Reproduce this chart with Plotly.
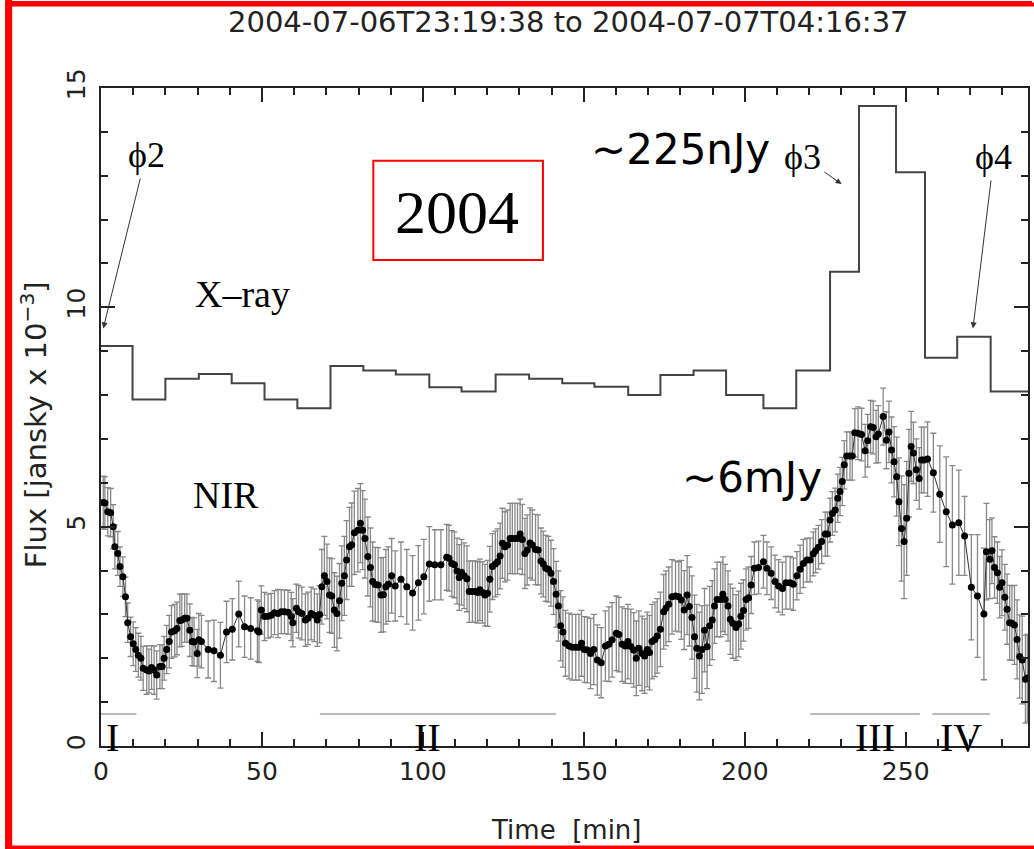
import plotly.graph_objects as go

# ---------------- data ----------------
title_text = "2004-07-06T23:19:38 to 2004-07-07T04:16:37"

xray_edges = [0, 9.8, 20, 30.4, 40.6, 50.8, 61, 71.3, 81.5, 91.6, 102, 112, 122.6, 133,
              143.3, 153.3, 163.8, 173.8, 184.1, 194.2, 205.8, 216, 226.5, 235.5, 247,
              256, 266, 276.4, 288]
xray_levels = [9.12, 7.90, 8.37, 8.48, 8.27, 7.90, 7.70, 8.66, 8.56, 8.47, 8.18, 8.08,
               8.47, 8.37, 8.27, 8.19, 8.00, 8.46, 8.56, 8.00, 7.70, 8.56, 10.81, 14.59,
               13.08, 8.85, 9.33, 8.08]

nir_time = [
    0.7, 1.2, 2.1, 3.0, 3.8, 4.3, 5.2, 5.9, 6.8, 7.6,
    8.3, 9.2, 10.0, 10.8, 11.6, 12.4, 13.1, 14.2, 14.9, 15.7,
    16.5, 17.3, 18.3, 19.0, 19.6, 20.4, 21.2, 21.9, 22.9, 23.6,
    24.5, 25.1, 26.0, 26.7, 27.6, 28.3, 28.9, 29.9, 30.4, 31.2,
    33.3, 35.1, 37.1, 39.0, 40.8, 42.8, 44.6, 46.5, 48.6, 49.1,
    49.8, 50.8, 51.9, 52.9, 53.9, 55.0, 56.0, 57.0, 58.1, 59.1,
    59.6, 60.7, 61.4, 62.4, 63.5, 64.3, 65.3, 66.3, 67.2, 67.9,
    68.6, 69.4, 70.2, 71.0, 71.7, 72.5, 73.3, 74.1, 74.8, 75.6,
    76.3, 77.2, 77.9, 78.7, 79.8, 80.6, 81.3, 82.0, 82.9, 83.7,
    84.4, 85.2, 86.1, 87.0, 87.7, 88.5, 89.3, 90.3,
    91.4, 93.2, 95.0, 96.8, 98.6, 100.3, 102.0, 103.7, 105.6, 107.4,
    108.1, 109.0, 109.8, 110.6, 111.3, 112.0, 112.8, 113.7, 114.4, 115.4,
    116.3, 117.0, 117.7, 118.5, 119.3, 120.1, 120.8, 121.6, 122.5, 123.2,
    124.0, 124.7, 125.5, 126.3, 127.1, 127.8, 128.6, 129.4, 130.2, 130.9,
    131.7, 132.4, 133.3, 134.0, 135.0, 135.8, 136.7, 137.4, 138.2, 139.0,
    139.8, 140.6, 141.4, 142.1, 142.8, 143.5, 144.3, 145.4, 146.4, 147.5,
    148.5, 149.3, 150.2, 151.1, 152.1, 153.1, 154.2, 155.4, 156.7, 157.8,
    158.8, 160.1, 160.9, 161.9, 162.9, 163.7, 164.6, 165.5, 166.3, 167.1,
    168.1, 168.9, 169.7, 170.4, 171.2, 172.1, 172.8, 173.8, 174.8, 175.5,
    176.4, 177.4, 178.5, 179.5,
    180.3, 181.2, 182.1, 182.8, 183.6, 184.4, 185.1, 185.9, 186.7, 187.5,
    188.3, 189.1, 189.9, 190.6, 191.4, 192.5, 193.2, 193.9, 194.8, 195.5,
    196.3, 197.3, 198.1, 198.8, 199.6, 200.4, 201.2, 202.0, 203.0, 204.3,
    205.8, 206.9, 208.2, 209.4, 210.5, 211.7, 212.8, 214.1, 215.1, 216.2,
    217.2, 218.2, 219.3, 220.3, 221.3, 222.0, 222.9, 223.9, 225.0, 225.7,
    226.5, 227.2, 228.1, 228.9, 229.6, 230.3, 230.9, 231.7, 232.7, 233.4,
    234.2, 235.2, 236.3, 237.4, 238.2, 239.1, 239.9, 240.8, 241.5, 243.0,
    244.0, 244.8, 245.6, 246.4, 247.2, 247.9, 248.7, 249.5, 250.3, 251.0,
    251.7, 252.4, 253.3,
    254.2, 254.9, 255.7, 256.8, 258.6, 260.6, 262.6, 264.5, 266.5, 268.3,
    270.4, 272.3, 274.3, 275.1, 276.1, 276.8, 277.6, 278.5, 279.2, 279.9,
    280.8, 281.5, 282.3, 283.0, 283.8, 284.6, 285.4, 286.2, 287.2, 287.8,
]
nir_flux = [
    5.55, 5.54, 5.34, 5.32, 5.0, 4.54, 4.39, 4.09, 3.86, 3.40,
    2.81, 2.49, 2.33, 2.20, 2.07, 2.0, 1.77, 1.73, 1.71, 1.79,
    1.73, 1.62, 1.81, 1.81, 2.0, 2.2, 2.38, 2.60, 2.63, 2.68,
    2.86, 2.87, 2.91, 2.91, 2.64, 2.38, 2.37, 2.11, 2.42, 2.38,
    2.2, 2.17, 2.07, 2.60, 2.66, 3.01, 2.72, 2.68, 2.63, 2.60,
    3.10, 2.95, 2.96, 2.98, 3.04, 3.02, 3.06, 3.06, 3.05, 2.95,
    2.81, 3.14, 3.06, 3.02, 2.87, 2.91, 3.02, 2.98, 2.87, 3.00,
    3.63, 3.88, 3.75, 3.44, 3.42, 3.10, 3.02, 3.31, 3.71, 3.88,
    4.24, 4.54, 4.59, 4.86, 4.92, 5.08, 4.92, 4.73, 4.32, 4.07,
    3.75, 3.68, 3.67, 3.44, 3.45, 3.63, 3.69, 3.88,
    3.65, 3.80, 3.63, 3.49, 3.72, 3.86, 4.15, 4.13, 4.13, 4.30,
    4.28, 4.16, 4.13, 3.99, 3.84, 3.96, 3.88, 3.81, 3.52, 3.52,
    3.52, 3.50, 3.56, 3.50, 3.44, 3.48, 3.80, 4.09, 4.15, 4.20,
    4.33, 4.62, 4.54, 4.58, 4.73, 4.73, 4.73, 4.73, 4.83, 4.71,
    4.39, 4.47, 4.63, 4.58, 4.48, 4.47, 4.22, 4.15, 4.05, 4.03,
    3.94, 3.75, 3.46, 3.19, 2.74, 2.60, 2.34, 2.28, 2.25, 2.25,
    2.25, 2.34, 2.20, 2.19, 2.11, 2.20, 1.96, 1.90, 2.28, 2.32,
    2.42, 2.57, 2.54, 2.32, 2.28, 2.38, 2.27, 2.19, 2.0, 2.23,
    2.11, 2.05, 2.20, 2.13, 2.38, 2.43, 2.51, 2.66, 3.06, 3.14,
    3.23, 3.40, 3.42, 3.40,
    3.33, 3.10, 3.44, 3.18, 2.93, 2.49, 2.23, 2.05, 2.2, 2.64,
    2.26, 2.74, 2.87, 3.19, 3.34, 3.34, 3.46, 3.34, 3.19, 2.89,
    2.80, 2.70, 2.78, 2.96, 3.09, 3.34, 3.38, 3.67, 4.05, 4.07,
    4.20, 4.05, 3.94, 3.75, 3.65, 3.59, 3.72, 3.72, 3.69, 3.88,
    4.03, 4.16, 4.24, 4.24, 4.38, 4.45, 4.53, 4.66, 4.83, 4.83,
    5.15, 5.30, 5.38, 5.65, 5.80, 6.03, 6.41, 6.61, 6.61, 6.61,
    7.14, 7.13, 7.10, 6.73, 6.96, 7.28, 7.26, 7.05, 7.11, 7.51,
    6.97, 7.16, 6.75, 6.48, 6.14, 5.57, 4.96, 4.66, 5.19, 6.22,
    6.83, 6.68, 6.30,
    6.10, 6.52, 6.52, 6.54, 6.23, 5.74, 5.34, 5.04, 5.09, 4.79,
    3.62, 3.42, 3.01, 4.43, 4.26, 4.45, 4.07, 3.95, 3.62, 3.72,
    3.39, 3.12, 2.81, 2.80, 2.76, 2.43, 2.04, 1.96, 1.52, 1.55,
]
nir_err = [
    0.6, 0.6, 0.55, 0.55, 0.5, 0.5, 0.5, 0.45, 0.45, 0.45,
    0.45, 0.45, 0.5, 0.5, 0.5, 0.5, 0.5, 0.55, 0.5, 0.5,
    0.55, 0.55, 0.5, 0.5, 0.5, 0.55, 0.6, 0.6, 0.6, 0.6,
    0.6, 0.6, 0.55, 0.55, 0.6, 0.55, 0.55, 0.55, 0.6, 0.6,
    0.65, 0.7, 0.75, 0.7, 0.7, 0.75, 0.7, 0.7, 0.7, 0.7,
    0.55, 0.55, 0.5, 0.5, 0.5, 0.55, 0.5, 0.5, 0.5, 0.55,
    0.55, 0.55, 0.6, 0.6, 0.6, 0.6, 0.6, 0.6, 0.6, 0.65,
    0.85, 0.9, 0.85, 0.85, 0.85, 0.85, 0.85, 0.85, 0.85, 0.9,
    0.9, 0.9, 0.95, 0.95, 0.95, 0.9, 0.9, 0.9, 0.9, 0.9,
    0.9, 0.85, 0.85, 0.85, 0.85, 0.85, 0.85, 0.85,
    0.8, 0.85, 0.85, 0.85, 0.85, 0.85, 0.85, 0.8, 0.8, 0.75,
    0.75, 0.75, 0.75, 0.75, 0.75, 0.75, 0.75, 0.75, 0.7, 0.7,
    0.7, 0.7, 0.7, 0.7, 0.7, 0.75, 0.75, 0.75, 0.75, 0.75,
    0.75, 0.8, 0.8, 0.8, 0.8, 0.8, 0.8, 0.8, 0.8, 0.8,
    0.8, 0.8, 0.8, 0.8, 0.8, 0.8, 0.75, 0.75, 0.75, 0.75,
    0.75, 0.75, 0.75, 0.8, 0.8, 0.8, 0.75, 0.75, 0.75, 0.75,
    0.75, 0.75, 0.75, 0.75, 0.8, 0.8, 0.8, 0.8, 0.8, 0.85,
    0.85, 0.85, 0.85, 0.85, 0.85, 0.85, 0.85, 0.85, 0.85, 0.85,
    0.85, 0.85, 0.85, 0.85, 0.85, 0.85, 0.85, 0.85, 0.85, 0.85,
    0.85, 0.85, 0.8, 0.8,
    0.9, 0.9, 0.9, 0.9, 0.95, 0.95, 1.0, 1.0, 1.0, 0.95,
    0.95, 0.9, 0.9, 0.85, 0.85, 0.85, 0.85, 0.8, 0.8, 0.8,
    0.8, 0.75, 0.75, 0.75, 0.7, 0.7, 0.7, 0.65, 0.6, 0.6,
    0.6, 0.6, 0.6, 0.6, 0.6, 0.6, 0.6, 0.6, 0.6, 0.55,
    0.55, 0.55, 0.5, 0.5, 0.5, 0.5, 0.5, 0.5, 0.5, 0.5,
    0.5, 0.5, 0.5, 0.55, 0.55, 0.55, 0.55, 0.55, 0.55, 0.55,
    0.55, 0.6, 0.6, 0.6, 0.6, 0.6, 0.6, 0.6, 0.65, 0.65,
    0.65, 0.7, 0.75, 0.8, 0.9, 1.0, 1.2, 1.3, 1.3, 1.0,
    0.8, 0.7, 0.7,
    0.7, 0.75, 0.75, 0.85, 0.9, 1.1, 1.25, 1.35, 1.2, 0.9,
    1.2, 1.4, 1.5, 1.1, 0.9, 0.75, 0.7, 0.7, 0.7, 0.75,
    0.75, 0.8, 0.85, 0.85, 0.9, 0.9, 0.95, 1.0, 1.0, 1.0,
]

phase_names = ["I", "II", "III", "IV"]
phase_start = [0, 68, 220.3, 258.3]
phase_end = [11, 141.4, 254.4, 276.1]
phase_level = 0.73
phase_label_t = [3.7, 101.5, 240.4, 267.2]
phase_label_v = 0.2

phi_labels = ["ϕ2", "ϕ3", "ϕ4"]
phi_text_t = [14.0, 218.0, 277.4]
phi_text_v = [13.47, 13.43, 13.43]
phi_head_t = [0.7, 230.1, 270.9]
phi_head_v = [9.52, 12.81, 9.52]

# ---------------- figure ----------------
W, H = 1034, 849
L, R, T, B = 101, 1030, 88, 746


def px_x(p):
    return (p - L) / (R - L)


def px_y(p):
    return (B - p) / (B - T)


fig = go.Figure()

fig.add_trace(go.Scatter(
    x=xray_edges, y=xray_levels + [xray_levels[-1]],
    mode="lines", line=dict(shape="hv", color="#444", width=2),
    hoverinfo="skip", showlegend=False))

fig.add_trace(go.Scatter(
    x=nir_time, y=nir_flux, mode="lines+markers",
    line=dict(color="#333", width=1),
    marker=dict(color="black", size=7),
    error_y=dict(type="data", array=nir_err, visible=True,
                 color="#888", thickness=1.3, width=3),
    showlegend=False))

for s, e in zip(phase_start, phase_end):
    fig.add_trace(go.Scatter(x=[s, e], y=[phase_level, phase_level], mode="lines",
                             line=dict(color="#777", width=1.2),
                             hoverinfo="skip", showlegend=False))

serif = "Liberation Serif, Times New Roman, serif"
sans = "DejaVu Sans, sans-serif"

ann = []
for name, t in zip(phase_names, phase_label_t):
    ann.append(dict(x=t, y=phase_label_v, xref="x", yref="y", text=name,
                    showarrow=False, font=dict(family=serif, size=40, color="black")))

for lab, tx, ty, hx, hy in zip(phi_labels, phi_text_t, phi_text_v, phi_head_t, phi_head_v):
    ann.append(dict(x=hx, y=hy, ax=tx, ay=ty, xref="x", yref="y", axref="x", ayref="y",
                    text=lab, showarrow=True, arrowhead=2, arrowsize=1.2, arrowwidth=1,
                    arrowcolor="#333", standoff=0, startstandoff=2,
                    font=dict(family=serif, size=36, color="black")))

ann += [
    dict(x=44, y=10.3, xref="x", yref="y", text="X–ray", showarrow=False,
         font=dict(family=serif, size=38, color="black")),
    dict(x=38.7, y=5.72, xref="x", yref="y", text="NIR", showarrow=False,
         font=dict(family=serif, size=38, color="black")),
    dict(x=110.5, y=12.18, xref="x", yref="y", text="2004", showarrow=False,
         font=dict(family=serif, size=62, color="black")),
    dict(x=180, y=13.6, xref="x", yref="y", text="~225nJy", showarrow=False,
         font=dict(family=sans, size=42, color="black")),
    dict(x=202.1, y=6.13, xref="x", yref="y", text="~6mJy", showarrow=False,
         font=dict(family=sans, size=42, color="black")),
    dict(x=px_x(570), y=px_y(22), xref="paper", yref="paper", text=title_text,
         xanchor="center", yanchor="middle",
         showarrow=False, font=dict(family=sans, size=29, color="#222")),
    dict(x=px_x(567), y=px_y(830), xref="paper", yref="paper", text="Time  [min]",
         xanchor="center", yanchor="middle",
         showarrow=False, font=dict(family=sans, size=26, color="#222")),
    dict(x=px_x(34), y=px_y(425), xref="paper", yref="paper",
         text="Flux [jansky x 10<sup>−3</sup>]", textangle=-90,
         xanchor="center", yanchor="middle",
         showarrow=False, font=dict(family=sans, size=29, color="#222")),
]

shapes = [
    # red box around 2004
    dict(type="rect", xref="x", yref="y", x0=84.6, x1=137.3, y0=11.08, y1=13.34,
         line=dict(color="red", width=2)),
    # gap in top frame
    dict(type="rect", xref="x", yref="y", x0=265.3, x1=269.7, y0=14.85, y1=15.15,
         fillcolor="white", line=dict(width=0), layer="above"),
    # outer red frame (open on the right, as in the cropped original)
    dict(type="rect", xref="paper", yref="paper", x0=px_x(7), x1=px_x(1080),
         y0=px_y(4.5), y1=px_y(847.5), fillcolor="rgba(0,0,0,0)",
         line=dict(color="red", width=4), layer="above"),
    dict(type="rect", xref="paper", yref="paper", x0=px_x(5), x1=px_x(12),
         y0=px_y(0), y1=px_y(849), fillcolor="red", line=dict(width=0), layer="above"),
    dict(type="line", xref="paper", yref="paper", x0=px_x(5), x1=px_x(1034),
         y0=px_y(3.5), y1=px_y(3.5), line=dict(color="red", width=5), layer="above"),
]

axis_common = dict(showgrid=False, zeroline=False, showline=True, linecolor="#222",
                   linewidth=2, mirror="allticks", ticks="inside", tickcolor="#222",
                   tickwidth=1.5, ticklen=14,
                   tickfont=dict(family=sans, size=25, color="#222"))

fig.update_layout(
    width=W, height=H,
    margin=dict(l=L, r=W - R, t=T, b=H - B, pad=0),
    paper_bgcolor="white", plot_bgcolor="white",
    xaxis=dict(range=[0, 288], dtick=50, tick0=0, ticklabelstandoff=2,
               minor=dict(dtick=10, ticks="inside", ticklen=7, tickcolor="#222", tickwidth=1.5),
               **axis_common),
    yaxis=dict(range=[0, 15], dtick=5, tick0=0, tickangle=-90, ticklabelstandoff=4,
               minor=dict(dtick=1, ticks="inside", ticklen=7, tickcolor="#222", tickwidth=1.5),
               **axis_common),
    annotations=ann, shapes=shapes, showlegend=False,
)

fig.write_html("out.html", config={"displayModeBar": False},
               post_script="document.body.style.margin='0px';"
                           "document.body.style.overflow='hidden';")
